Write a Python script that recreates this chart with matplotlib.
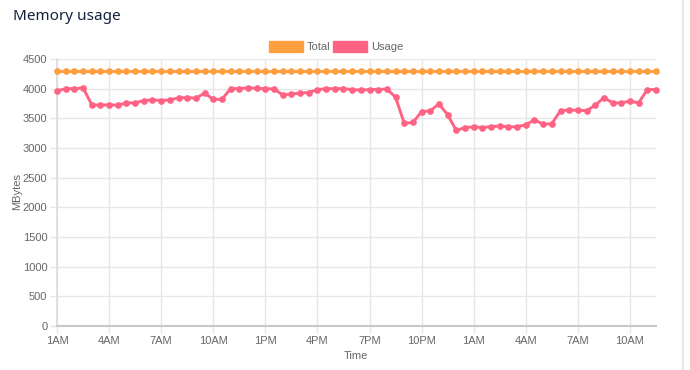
import numpy as np
import matplotlib.pyplot as plt
from matplotlib.patches import Rectangle
from matplotlib.lines import Line2D

plt.rcParams['font.family'] = ['Liberation Sans', 'DejaVu Sans']

# half-hour samples, 1AM day 1 .. 11:30AM day 2
hours = ['1AM', '1:30AM', '2AM', '2:30AM', '3AM', '3:30AM', '4AM', '4:30AM', '5AM', '5:30AM',
         '6AM', '6:30AM', '7AM', '7:30AM', '8AM', '8:30AM', '9AM', '9:30AM', '10AM', '10:30AM',
         '11AM', '11:30AM', '12PM', '12:30PM', '1PM', '1:30PM', '2PM', '2:30PM', '3PM', '3:30PM',
         '4PM', '4:30PM', '5PM', '5:30PM', '6PM', '6:30PM', '7PM', '7:30PM', '8PM', '8:30PM',
         '9PM', '9:30PM', '10PM', '10:30PM', '11PM', '11:30PM', '12AM', '12:30AM', '1AM', '1:30AM',
         '2AM', '2:30AM', '3AM', '3:30AM', '4AM', '4:30AM', '5AM', '5:30AM', '6AM', '6:30AM',
         '7AM', '7:30AM', '8AM', '8:30AM', '9AM', '9:30AM', '10AM', '10:30AM', '11AM', '11:30AM']

total = [4300] * 70

usage = [3960, 4000, 4000, 4015, 3730, 3720, 3730, 3720, 3760, 3760,
         3800, 3810, 3800, 3810, 3845, 3850, 3840, 3925, 3820, 3820,
         4000, 4000, 4015, 4005, 4000, 3995, 3895, 3910, 3925, 3935,
         3985, 4000, 4000, 4000, 3985, 3975, 3985, 3985, 3995, 3855,
         3418, 3430, 3615, 3625, 3745, 3560, 3295, 3345, 3355, 3345,
         3360, 3370, 3355, 3360, 3390, 3475, 3400, 3410, 3630, 3640,
         3635, 3630, 3720, 3850, 3760, 3760, 3790, 3760, 3985, 3985]

ORANGE = '#ff9f40'
PINK = '#ff6384'
GRID = '#e6e6e6'
TXT = '#666666'

fig = plt.figure(figsize=(6.9, 3.7), dpi=100)
ax = fig.add_axes([57/690, 1-326/370, (656-57)/690, (326-59)/370])

x = np.arange(len(hours))
ax.plot(x, total, color=ORANGE, lw=2.1, marker='o', ms=3.8, zorder=3, clip_on=False)
ax.plot(x, usage, color=PINK, lw=2.1, marker='o', ms=3.8, zorder=4, clip_on=False)

ax.set_xlim(0, len(hours)-1)
ax.set_ylim(0, 4500)
ax.set_yticks(np.arange(0, 4501, 500))
ax.set_xticks(x[::6])
ax.set_xticklabels(hours[::6])

ax.grid(True, color=GRID, lw=1)
ax.set_axisbelow(True)
for s in ['top', 'right']:
    ax.spines[s].set_visible(False)
ax.spines['left'].set_color('#dcdcdc')
ax.spines['left'].set_linewidth(1.2)
ax.spines['bottom'].set_color('#c8c8c8')
ax.spines['bottom'].set_linewidth(1.5)
ax.tick_params(colors=GRID, labelcolor=TXT, labelsize=8, length=5, width=1, pad=2)

fig.text(356/690, 1-356/370, 'Time', color=TXT, fontsize=8, ha='center', va='center')
fig.text(17/690, 1-192/370, 'MBytes', color=TXT, fontsize=8, ha='center', va='center', rotation=90)

fig.text(13/690, 1-17/370, 'Memory usage', fontsize=11, color='#14213d', va='center', ha='left',
         family=['Noto Sans', 'DejaVu Sans'])

# legend
for (x0, lbl, col) in [(269, 'Total', ORANGE), (333, 'Usage', PINK)]:
    fig.add_artist(Rectangle((x0/690, 1-52/370), 34/690, 11/370, color=col, transform=fig.transFigure))
    fig.text((x0+38)/690, 1-46.5/370, lbl, fontsize=8, color=TXT, va='center', ha='left')

fig.add_artist(Line2D([683/690, 683/690], [0, 1], color='#e8e8e8', lw=1.5, transform=fig.transFigure))

fig.savefig('out.png', dpi=100)
